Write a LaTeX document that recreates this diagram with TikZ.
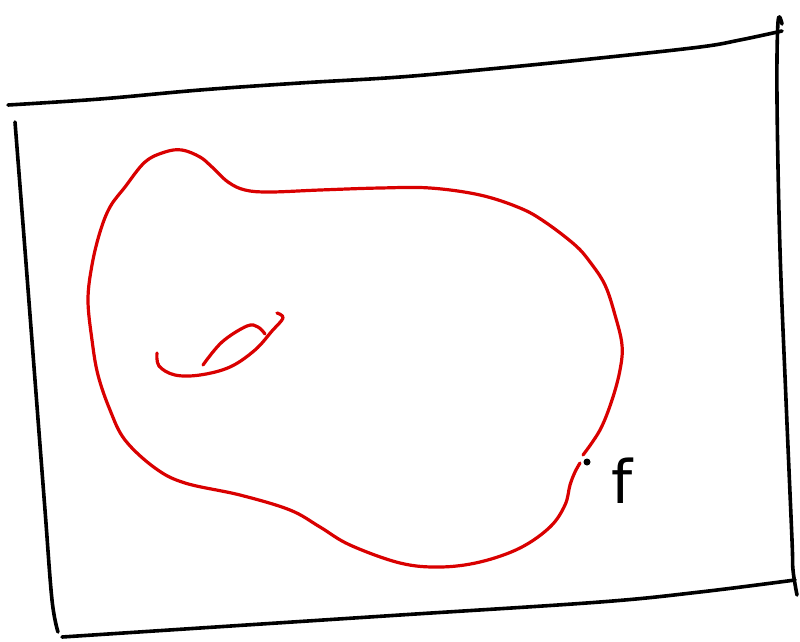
\documentclass[tikz,border=0pt]{standalone}
\usepackage{fontspec}
\setsansfont{DejaVu Sans}
\begin{document}
\begin{tikzpicture}[x=1pt,y=-1pt,
  frame/.style={line width=3.6pt,line cap=round,line join=round,black},
  surf/.style={line width=3.2pt,line cap=round,line join=round,red!85!black}]
\useasboundingbox (0,0) rectangle (800,641);
% frame
\draw[frame] plot[smooth,tension=0.6] coordinates {(8,105) (100,99) (200,90) (300,83) (400,77) (500,68) (600,58) (700,47) (740,40) (782,31)};
\draw[frame] plot[smooth,tension=0.6] coordinates {(15,122) (25,250) (35,380) (45,510) (52,600) (58,632)};
\draw[frame] plot[smooth,tension=0.6] coordinates {(782,24) (778,22) (777,100) (780,250) (786,400) (792,540) (793,570) (797,595)};
\draw[frame] plot[smooth,tension=0.6] coordinates {(62,637) (200,628) (400,615) (600,602) (700,592) (795,580)};
% surface outline
\draw[surf] plot[smooth,tension=0.6] coordinates {(583,455) (600,430) (612,400) (620,370) (622,345) (615,315) (605,285) (590,262) (575,245) (545,222) (520,208) (480,195) (430,188) (380,188) (320,190) (270,192) (245,190) (228,182) (212,167) (200,157) (182,150) (165,152) (145,162) (125,187) (110,207) (100,232) (92,265) (88,300) (92,340) (98,375) (110,410) (125,440) (155,468) (185,483) (240,495) (290,510) (320,527) (350,545) (400,563) (440,567) (480,562) (520,548) (550,527) (565,505) (570,485) (575,472) (580,463)};
% handle
\draw[surf] plot[smooth,tension=0.6] coordinates {(157,353) (159,366) (175,375) (200,375) (230,367) (255,350) (272,331) (283,318) (277,313)};
\draw[surf] plot[smooth,tension=0.6] coordinates {(203,365) (222,342) (247,326) (258,327) (265,334)};
% point
\fill (587,462) circle (3.5pt);
\node[font=\sffamily\fontsize{60}{60}\selectfont,inner sep=0pt] (f) at (622,481) {f};
\end{tikzpicture}
\end{document}
